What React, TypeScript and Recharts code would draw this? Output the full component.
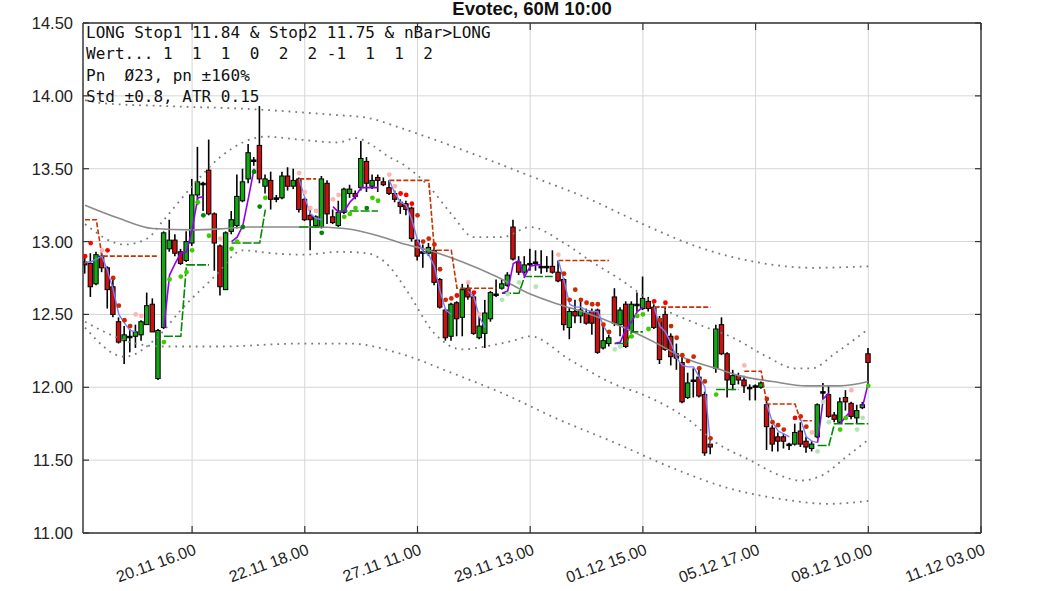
import React from 'react';
import { ComposedChart, XAxis, YAxis, CartesianGrid, Line, Bar, Scatter } from 'recharts';

// ---------- candles (bar index 1..140) ----------
const OPEN = [12.86,12.85,12.71,12.90,12.82,12.69,12.45,12.32,12.34,12.35,12.36,12.43,12.57,12.06,12.41,12.95,13.01,12.93,12.87,12.99,
13.32,13.40,13.49,13.19,12.97,12.67,13.07,13.11,13.28,13.43,13.56,13.66,13.38,13.42,13.30,13.30,13.45,13.38,13.43,13.29,
13.18,13.11,13.10,13.40,13.17,13.11,13.20,13.33,13.33,13.37,13.55,13.38,13.44,13.41,13.37,13.33,13.27,13.26,13.23,13.01,
12.92,12.92,12.94,12.74,12.53,12.35,12.58,12.48,12.68,12.62,12.34,12.37,12.47,12.63,12.68,12.70,13.10,12.86,12.79,12.85,
12.85,12.83,12.82,12.83,12.79,12.74,12.41,12.52,12.49,12.51,12.52,12.53,12.27,12.30,12.62,12.43,12.57,12.39,12.56,12.54,
12.59,12.55,12.47,12.50,12.35,12.23,12.17,11.93,12.04,12.07,11.95,11.61,12.13,12.43,12.23,12.02,12.08,12.05,12.00,12.00,
12.00,11.88,11.72,11.66,11.66,11.60,11.61,11.70,11.63,11.58,11.66,11.96,11.95,11.81,11.76,11.93,11.89,11.79,11.86,12.23];
const HIGH = [12.90,12.92,12.93,12.92,12.83,12.76,12.48,12.42,12.40,12.43,12.46,12.65,12.61,12.40,13.07,13.15,13.05,12.95,13.07,13.43,
13.65,13.41,13.70,13.20,12.98,13.07,13.21,13.46,13.50,13.67,13.58,13.93,13.46,13.48,13.32,13.48,13.51,13.50,13.44,13.30,
13.22,13.18,13.45,13.42,13.22,13.28,13.37,13.39,13.35,13.69,13.58,13.46,13.46,13.44,13.42,13.35,13.29,13.28,13.24,13.02,
12.98,12.99,12.96,12.75,12.54,12.58,12.59,12.71,12.71,12.66,12.50,12.60,12.66,12.74,12.74,12.79,13.15,12.90,12.90,12.95,
12.94,12.94,12.90,12.94,12.87,12.75,12.55,12.60,12.60,12.54,12.54,12.54,12.44,12.36,12.68,12.55,12.59,12.59,12.65,12.76,
12.62,12.57,12.49,12.55,12.37,12.30,12.23,12.10,12.13,12.14,11.97,11.66,12.43,12.48,12.24,12.12,12.10,12.08,12.02,12.02,
12.04,11.93,11.74,11.69,11.68,11.62,11.75,11.76,11.66,11.63,11.89,12.03,12.01,11.83,11.93,11.98,11.90,11.88,11.90,12.27];
const LOW = [12.78,12.62,12.70,12.79,12.54,12.48,12.30,12.16,12.24,12.27,12.32,12.43,12.38,12.05,12.40,12.93,12.90,12.84,12.86,12.97,
13.25,13.21,13.18,12.80,12.63,12.67,13.05,13.09,13.27,13.40,13.52,13.40,13.33,13.22,13.27,13.29,13.35,13.36,13.20,13.14,
12.94,13.10,13.09,13.12,13.12,13.10,13.19,13.30,13.29,13.35,13.34,13.36,13.34,13.38,13.32,13.27,13.19,13.18,13.00,12.87,
12.82,12.90,12.70,12.54,12.32,12.32,12.35,12.35,12.60,12.36,12.33,12.27,12.45,12.62,12.67,12.69,12.87,12.77,12.78,12.80,
12.80,12.78,12.79,12.78,12.72,12.39,12.33,12.44,12.44,12.43,12.36,12.23,12.26,12.28,12.42,12.35,12.27,12.38,12.52,12.53,
12.52,12.40,12.16,12.25,12.15,12.12,11.89,11.92,11.93,11.93,11.53,11.54,12.10,12.22,11.93,11.98,12.02,11.96,11.91,11.91,
11.99,11.57,11.56,11.56,11.58,11.57,11.60,11.59,11.55,11.56,11.65,11.91,11.79,11.76,11.75,11.84,11.78,11.75,11.85,12.00];
const CLOSE = [12.84,12.69,12.91,12.82,12.67,12.50,12.31,12.36,12.35,12.38,12.45,12.56,12.38,12.39,13.06,13.01,12.92,12.85,13.00,13.32,
13.41,13.40,13.19,12.99,12.69,13.06,13.15,13.31,13.41,13.61,13.56,13.43,13.43,13.29,13.30,13.45,13.38,13.42,13.22,13.15,
13.15,13.17,13.43,13.19,13.13,13.20,13.36,13.36,13.31,13.57,13.40,13.42,13.42,13.39,13.33,13.29,13.24,13.22,13.02,12.90,
12.93,12.96,12.72,12.55,12.34,12.57,12.47,12.67,12.62,12.37,12.42,12.51,12.65,12.64,12.71,12.77,12.88,12.79,12.84,12.85,
12.86,12.82,12.83,12.79,12.73,12.43,12.52,12.49,12.53,12.44,12.44,12.24,12.32,12.34,12.44,12.53,12.28,12.57,12.57,12.61,
12.54,12.41,12.19,12.26,12.21,12.20,11.90,12.03,12.05,11.94,11.55,11.59,12.40,12.23,12.05,12.08,12.05,12.01,12.00,12.01,
12.03,11.73,11.61,11.63,11.63,11.61,11.69,11.61,11.59,11.61,11.88,11.97,11.80,11.78,11.90,11.90,11.80,11.84,11.88,12.17];

// ---------- moving average & bands (bar index, value) ----------
const MA_X = [1,7,13,20,26,30,35,41,47,53,57,62,68,74,80,85,90,96,102,108,113,117,123,129,135,140];
const MA_Y = [13.25,13.16,13.09,13.08,13.09,13.10,13.10,13.10,13.09,13.04,12.99,12.94,12.86,12.76,12.64,12.57,12.51,12.42,12.31,12.19,12.13,12.08,12.04,12.01,12.01,12.04];
const OU_X = [1,4,15,30,45,51,57,63,70,80,90,100,110,120,130,140];
const OU_Y = [13.97,13.95,13.93,13.91,13.87,13.85,13.78,13.70,13.60,13.45,13.30,13.12,12.96,12.86,12.82,12.83];
const OL_X = [1,5,10,15,25,39,48,57,66,75,85,95,105,115,125,133,140];
const OL_Y = [12.45,12.37,12.30,12.28,12.28,12.30,12.30,12.23,12.10,11.96,11.78,11.62,11.45,11.31,11.23,11.20,11.22];
const IU_X = [1,8,12,15,20,25,29,33,39,46,49,52,55,57,62,66,70,75,80,86,91,96,103,110,116,122,127,130,134,140];
const IU_Y = [13.12,12.98,13.02,13.15,13.38,13.58,13.68,13.72,13.70,13.68,13.71,13.66,13.58,13.54,13.38,13.19,13.03,13.03,13.10,12.99,12.86,12.74,12.55,12.43,12.34,12.21,12.13,12.13,12.23,12.40];
const IL_X = [1,8,14,18,24,29,34,40,46,51,55,58,63,68,72,77,80,87,95,100,108,113,119,124,128,132,136,140];
const IL_Y = [12.41,12.21,12.35,12.53,12.76,12.94,12.92,12.91,12.93,12.92,12.83,12.67,12.37,12.26,12.28,12.32,12.35,12.19,12.02,11.95,11.78,11.62,11.50,11.40,11.36,11.40,11.52,11.64];

// ---------- stop levels: [first bar, last bar, level] ----------
const RED_STOPS = [[1,3,13.15],[4,14,12.90],[39,42,13.43],[55,62,13.42],[63,66,12.94],[67,74,12.68],[85,94,12.87],[102,112,12.55],[118,121,12.11],[122,127,11.885],[128,130,11.77]];
const GREEN_STOPS = [[15,18,12.35],[19,23,12.84],[27,32,12.99],[33,33,13.22],[39,43,13.10],[46,53,13.21],[75,78,12.645],[79,84,12.76],[95,97,12.30],[98,100,12.38],[113,117,11.985],[131,133,11.60],[134,140,11.75]];

// ---------- trailing lines: [first bar, values...] ----------
const BLUE_RUNS: [number, number[]][] = [
  [1, [12.86,12.86,12.88,12.90,12.80,12.67,12.50,12.44,12.39,12.38]],
  [39, [13.43,13.30,13.19,13.16,13.15]],
  [55, [13.42,13.33,13.27,13.25,13.15,13.01,12.93,12.91,12.83,12.66,12.53,12.50]],
  [69, [12.66,12.62,12.48,12.41]],
  [85, [12.87,12.73,12.57,12.55,12.55,12.53,12.52,12.52,12.42,12.36]],
  [102, [12.55,12.42,12.38,12.30,12.20,12.15,12.14,12.14,12.07,12.00,11.61]],
  [122, [11.88,11.76,11.70,11.68,11.66]],
  [128, [11.78,11.66,11.63,11.62]],
];
const PURPLE_RUNS: [number, number[]][] = [
  [15, [12.41,12.77,12.85,12.92,12.93,13.08,13.30,13.31]],
  [27, [13.00,13.03,13.11,13.30,13.50]],
  [45, [13.24,13.20,13.21,13.27,13.31,13.37,13.37,13.37,13.37]],
  [75, [12.645,12.66,12.85,12.87,12.76,12.83,12.84,12.84]],
  [95, [12.30,12.31,12.40,12.45,12.52,12.55]],
  [131, [11.62,11.92,11.96]],
  [135, [11.75,11.80,11.84]],
  [139, [11.87,12.03]],
];

// ---------- signal dots: [bar, price] ----------
const DOT_RED = [[1,12.90],[2,12.99],[5,12.94],[57,13.33],[58,13.32],[59,13.26],[67,12.63],[70,12.65],[102,12.59],[104,12.58],[127,11.79]];
const DOT_DKRED = [[6,12.75],[7,12.56],[8,12.46],[9,12.42],[60,13.18],[61,13.00],[62,13.02],[63,12.98],[64,12.81],[65,12.60],[66,12.61],[86,12.78],[87,12.60],[88,12.67],[89,12.60],[90,12.58],[91,12.57],[92,12.57],[93,12.43],[94,12.38],[103,12.46],[105,12.42],[106,12.34],[107,12.22],[108,12.18],[109,12.21],[110,12.13],[111,12.04],[112,11.65],[122,11.92],[123,11.76],[124,11.74],[125,11.71],[128,11.80],[129,11.73]];
const DOT_PINK = [[4,12.94],[10,12.50],[11,12.49],[25,13.02],[39,13.47],[40,13.34],[41,13.23],[42,13.21],[45,13.29],[46,13.32],[55,13.46],[56,13.38],[69,12.72],[71,12.50],[85,12.91],[118,12.15],[130,11.69],[137,11.98]];
const DOT_GREEN = [[15,12.31],[16,12.74],[18,12.76],[19,12.79],[20,12.94],[21,13.27],[23,13.04],[27,12.95],[28,13.00],[33,13.30],[47,13.17],[48,13.19],[49,13.23],[52,13.30],[53,13.28],[98,12.35],[99,12.49],[100,12.50],[101,12.40],[113,11.95],[135,11.71],[136,11.79],[140,12.01]];
const DOT_DKGREEN = [[22,13.18],[29,13.10],[31,13.48],[32,13.24],[43,13.06],[51,13.23]];
const DOT_LTGREEN = [[75,12.60],[76,12.64],[78,12.72],[81,12.69],[95,12.26],[96,12.28],[131,11.56],[132,11.90],[133,11.76],[138,11.71],[139,11.79]];

// ---------- axes ----------
const X_TICKS = [20,40,60,80,100,120,140,160];
const X_LABELS = ['20.11 16.00','22.11 18.00','27.11 11.00','29.11 13.00','01.12 15.00','05.12 17.00','08.12 10.00','11.12 03.00'];
const Y_TICKS = [11,11.5,12,12.5,13,13.5,14,14.5];
const X_DOMAIN: [number, number] = [0.64, 160];
const Y_DOMAIN: [number, number] = [11, 14.5];

const TITLE = 'Evotec, 60M 10:00';
const INFO = ['LONG Stop1 11.84 & Stop2 11.75 & nBar>LONG','Wert... 1  1  1  0  2  2 -1  1  1  2','Pn  \u00D823, pn \u00B1160%','Std \u00B10.8, ATR 0.15'];

// ---------- tables built from the arrays ----------
const candles = OPEN.map((o, k) => ({ i: k + 1, o, h: HIGH[k], l: LOW[k], c: CLOSE[k], range: [LOW[k], HIGH[k]] }));
const pairs = (xs: number[], ys: number[]) => xs.map((x, k) => ({ i: x, v: ys[k] }));
const fromSegs = (segs: number[][]) => candles.map(({ i }) => {
  const s = segs.find((g) => i >= g[0] && i <= g[1]);
  return { i, v: s ? s[2] : null };
});
const fromRuns = (runs: [number, number[]][]) => candles.map(({ i }) => {
  for (const [start, vals] of runs) {
    if (i >= start && i < start + vals.length) return { i, v: vals[i - start] };
  }
  return { i, v: null };
});
const dots = (arr: number[][]) => arr.map(([i, v]) => ({ i, v }));

const maData = pairs(MA_X, MA_Y);
const ouData = pairs(OU_X, OU_Y);
const olData = pairs(OL_X, OL_Y);
const iuData = pairs(IU_X, IU_Y);
const ilData = pairs(IL_X, IL_Y);
const redStop = fromSegs(RED_STOPS);
const greenStop = fromSegs(GREEN_STOPS);
const blueTrail = fromRuns(BLUE_RUNS);
const purpleTrail = fromRuns(PURPLE_RUNS);

const Candle = (props: any) => {
  const { x, y, width, height, payload } = props;
  if (!payload || x == null) return null;
  const { o, h, l, c } = payload;
  const top = Math.min(y, y + height);
  const bot = Math.max(y, y + height);
  const k = (bot - top) / (h - l || 1);
  const py = (p: number) => top + (h - p) * k;
  const cx = x + width / 2;
  const doji = Math.abs(c - o) < 0.015;
  const bt = py(Math.max(o, c));
  const bb = py(Math.min(o, c));
  const fill = doji ? '#000' : c > o ? '#12a812' : '#cc1010';
  return (
    <g>
      <line x1={cx} x2={cx} y1={top} y2={bot} stroke="#000" strokeWidth={1.6} />
      <rect x={cx - 2.2} y={bt} width={4.4} height={Math.max(bb - bt, 1.5)} fill={fill} stroke="#000" strokeWidth={1} />
    </g>
  );
};

const dotShape = (color: string) => (p: any) => <circle cx={p.cx} cy={p.cy} r={2.4} fill={color} />;

const FONT = "'Liberation Sans', Arial, sans-serif";

const LeftTick = (p: any) => (
  <g>
    <line x1={p.x} y1={p.y} x2={p.x + 6} y2={p.y} stroke="#333" strokeWidth={1.2} />
    <text x={p.x - 10} y={p.y} dy={6} textAnchor="end" fontSize={16.5} fill="#222" fontFamily={FONT}>
      {Number(p.payload.value).toFixed(2)}
    </text>
  </g>
);
const RightTick = (p: any) => (
  <line x1={p.x - 6} y1={p.y} x2={p.x} y2={p.y} stroke="#333" strokeWidth={1.2} />
);
const BottomTick = (p: any) => {
  const idx = X_TICKS.indexOf(p.payload.value);
  const ax = p.x + 5;
  const ay = p.y + 21;
  return (
    <g>
      <line x1={p.x} y1={p.y} x2={p.x} y2={p.y - 7} stroke="#333" strokeWidth={1.2} />
      <text x={ax} y={ay} textAnchor="end" fontSize={16} fill="#222" fontFamily={FONT} transform={`rotate(-20, ${ax}, ${ay})`}>
        {idx >= 0 ? X_LABELS[idx] : ''}
      </text>
    </g>
  );
};
const TopTick = (p: any) => (
  <line x1={p.x} y1={p.y} x2={p.x} y2={p.y + 7} stroke="#333" strokeWidth={1.2} />
);

const axisLine = { stroke: '#333', strokeWidth: 1.4 };

export default function App() {
  return (
    <div style={{ position: 'absolute', left: 0, top: 0, width: 1063, height: 590, background: '#fff' }}>
      <ComposedChart width={1063} height={590} data={candles} margin={{ top: 22, right: 81, bottom: 0, left: 0 }}>
        <CartesianGrid stroke="#d6d6d6" strokeWidth={1} />
        <XAxis dataKey="i" type="number" domain={X_DOMAIN} ticks={X_TICKS} allowDataOverflow height={57}
          tick={BottomTick} tickSize={0} tickMargin={0} tickLine={false} axisLine={axisLine} interval={0} />
        <XAxis xAxisId="top" orientation="top" dataKey="i" type="number" domain={X_DOMAIN} ticks={X_TICKS} allowDataOverflow height={1}
          tick={TopTick} tickSize={0} tickMargin={0} tickLine={false} axisLine={axisLine} interval={0} />
        <YAxis type="number" domain={Y_DOMAIN} ticks={Y_TICKS} allowDataOverflow width={83}
          tick={LeftTick} tickSize={0} tickMargin={0} tickLine={false} axisLine={axisLine} interval={0} />
        <YAxis yAxisId="right" orientation="right" type="number" domain={Y_DOMAIN} ticks={Y_TICKS} allowDataOverflow width={1}
          tick={RightTick} tickSize={0} tickMargin={0} tickLine={false} axisLine={axisLine} interval={0} />

        <Line data={ouData} dataKey="v" type="monotone" stroke="#7a7a7a" strokeWidth={1.8} strokeDasharray="1.8 5" dot={false} isAnimationActive={false} connectNulls />
        <Line data={olData} dataKey="v" type="monotone" stroke="#7a7a7a" strokeWidth={1.8} strokeDasharray="1.8 5" dot={false} isAnimationActive={false} connectNulls />
        <Line data={iuData} dataKey="v" type="monotone" stroke="#7a7a7a" strokeWidth={1.8} strokeDasharray="1.8 5" dot={false} isAnimationActive={false} connectNulls />
        <Line data={ilData} dataKey="v" type="monotone" stroke="#7a7a7a" strokeWidth={1.8} strokeDasharray="1.8 5" dot={false} isAnimationActive={false} connectNulls />
        <Line data={maData} dataKey="v" type="monotone" stroke="#8a8a8a" strokeWidth={1.6} dot={false} isAnimationActive={false} connectNulls />

        <Line data={redStop} dataKey="v" type="linear" stroke="#c83200" strokeWidth={1.6} strokeDasharray="5 2" dot={false} isAnimationActive={false} />
        <Line data={greenStop} dataKey="v" type="linear" stroke="#008a00" strokeWidth={1.6} strokeDasharray="9 2" dot={false} isAnimationActive={false} />
        <Line data={blueTrail} dataKey="v" type="linear" stroke="#7c7cff" strokeWidth={1.4} dot={false} isAnimationActive={false} />
        <Line data={purpleTrail} dataKey="v" type="linear" stroke="#9000f0" strokeWidth={1.6} dot={false} isAnimationActive={false} />

        <Bar dataKey="range" barSize={5} shape={Candle} isAnimationActive={false} />

        <Scatter data={dots(DOT_RED)} dataKey="v" shape={dotShape('#ff0000')} isAnimationActive={false} />
        <Scatter data={dots(DOT_DKRED)} dataKey="v" shape={dotShape('#cc2a00')} isAnimationActive={false} />
        <Scatter data={dots(DOT_PINK)} dataKey="v" shape={dotShape('#ffb4b4')} isAnimationActive={false} />
        <Scatter data={dots(DOT_GREEN)} dataKey="v" shape={dotShape('#3ccc00')} isAnimationActive={false} />
        <Scatter data={dots(DOT_DKGREEN)} dataKey="v" shape={dotShape('#008800')} isAnimationActive={false} />
        <Scatter data={dots(DOT_LTGREEN)} dataKey="v" shape={dotShape('#b4e6b4')} isAnimationActive={false} />
      </ComposedChart>

      <div style={{ position: 'absolute', left: 332, top: -1, width: 400, textAlign: 'center', fontFamily: FONT, fontWeight: 'bold', fontSize: 18.5, lineHeight: '20px', color: '#111' }}>
        {TITLE}
      </div>
      <div style={{ position: 'absolute', left: 86, top: 22, fontFamily: "'DejaVu Sans Mono', monospace", fontSize: 16, lineHeight: '21.3px', whiteSpace: 'pre', color: '#111' }}>
        {INFO.map((t) => <div key={t}>{t}</div>)}
      </div>
    </div>
  );
}
